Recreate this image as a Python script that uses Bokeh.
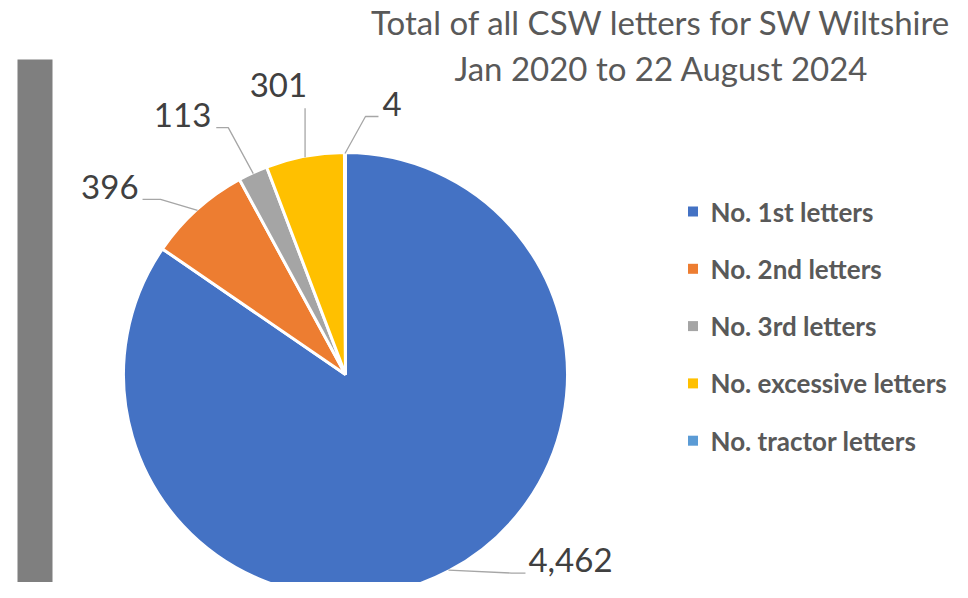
import numpy as np
from bokeh.plotting import figure
from bokeh.models import ColumnDataSource, Range1d
from bokeh.core.properties import value
from bokeh.embed import file_html
from bokeh.resources import INLINE

# ---- data ----
categories = ["No. 1st letters", "No. 2nd letters", "No. 3rd letters",
              "No. excessive letters", "No. tractor letters"]
counts = [4462, 396, 113, 301, 4]
label_texts = ["4,462", "396", "113", "301", "4"]
title_lines = ["Total of all CSW letters for SW Wiltshire", "Jan 2020 to 22 August 2024"]
colors = ["#4472C4", "#ED7D31", "#A5A5A5", "#FFC000", "#5B9BD5"]

# ---- layout (pixels; y measured downward from picture top) ----
W, H = 952, 582
TOP = 598
cx, cy_img, R = 345, 374, 222
def Y(y_img):
    return TOP - y_img

# per-slice leader-line offsets from the slice's outer mid point (dx, dy down)
elbow_off = [(63, 3), (-37, -11), (-25, -46), (0, -49), (20.5, -37)]
end_off = [(77, 3), (-55, -11), (-37, -46), (0, -49), (33.5, -37)]
# label anchor (vertical middle of the text) offsets
label_off = [(80, -10, "left"), (-59, -23.5, "right"), (-42, -59, "right"),
             (2, -72, "right"), (37.5, -49.5, "left")]

FONT = "Lato"

p = figure(width=W, height=H, x_range=Range1d(0, W), y_range=Range1d(TOP - H, TOP),
           x_axis_type=None, y_axis_type=None, output_backend="svg", toolbar_location=None,
           min_border=0, min_border_left=0, min_border_right=0, min_border_top=0, min_border_bottom=0)
p.grid.visible = False
p.outline_line_color = None
p.background_fill_color = "white"

# grey bar at left
p.quad(left=[17], right=[52], top=[Y(59)], bottom=[Y(600)], fill_color="#7F7F7F", line_color=None)

# ---- pie ----
vals = np.array(counts, dtype=float)
tot = vals.sum()
cum = np.concatenate([[0], np.cumsum(vals)])
theta0 = 2 * np.pi * cum[:-1] / tot
theta1 = 2 * np.pi * cum[1:] / tot
start = np.pi / 2 - theta0
end = np.pi / 2 - theta1
src = ColumnDataSource(dict(start=start, end=end, color=colors, cat=categories))
p.wedge(x=cx, y=Y(cy_img), radius=R, start_angle="start", end_angle="end", direction="clock",
        fill_color="color", line_color="white", line_width=3, source=src)

# ---- leader lines & data labels ----
mid = (theta0 + theta1) / 2
xs, ys = [], []
for i in range(len(counts)):
    ex = cx + (R - 1) * np.sin(mid[i])
    ey = cy_img - (R - 1) * np.cos(mid[i])
    e1 = (ex + elbow_off[i][0], ey + elbow_off[i][1])
    e2 = (ex + end_off[i][0], ey + end_off[i][1])
    xs.append([ex, e1[0], e2[0]])
    ys.append([Y(ey), Y(e1[1]), Y(e2[1])])
    lx, ly, al = label_off[i]
    p.text(x=[ex + lx], y=[Y(ey + ly)], text=[label_texts[i]], text_align=al,
           text_baseline="middle", text_font=value(FONT), text_font_size="33px",
           text_color="#404040")
p.multi_line(xs=xs, ys=ys, line_color="#A6A6A6", line_width=1.3)

# ---- title ----
for k, t in enumerate(title_lines):
    p.text(x=[661], y=[Y(21 + 46.5 * k)], text=[t], text_align="center", text_baseline="middle",
           text_font=value(FONT), text_font_size="33px", text_color="#595959")

# ---- legend ----
leg_y = [Y(211 + 57.3 * i) for i in range(len(categories))]
p.scatter(x=[692.5] * len(categories), y=leg_y, marker="square", size=10, fill_color=colors,
          line_color=None)
p.text(x=[710] * len(categories), y=leg_y, text=categories, text_align="left", text_baseline="middle",
       text_font=value(FONT), text_font_size="26px", text_font_style="bold", text_color="#595959")

open("out.html", "w").write(file_html(p, INLINE))
